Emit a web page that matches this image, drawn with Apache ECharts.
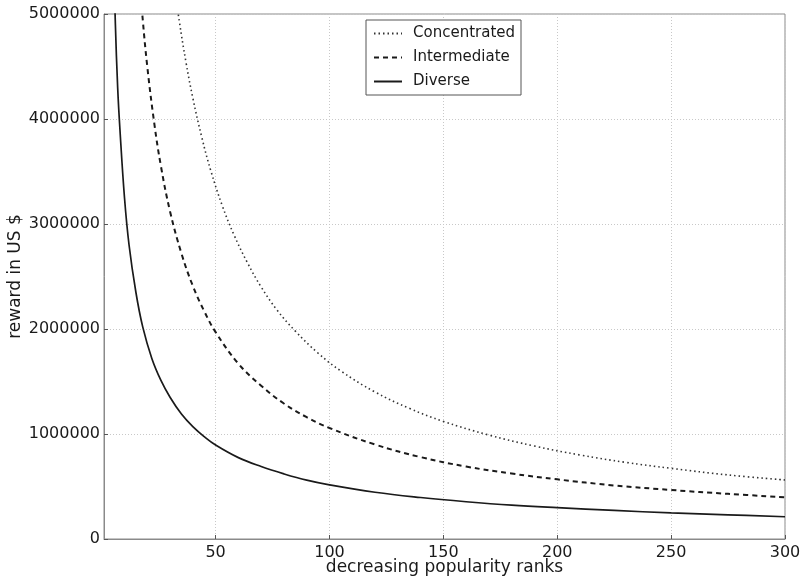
<!DOCTYPE html>
<html>
<head>
<meta charset="utf-8">
<script src="https://cdn.jsdelivr.net/npm/echarts@6/dist/echarts.min.js"></script>
<style>
  html, body { margin: 0; padding: 0; background: #fff; }
  #chart { width: 800px; height: 579px; }
</style>
</head>
<body>
<div id="chart"></div>
<script>
// Reward paid per popularity rank, for three distributions of demand.
const seriesNames = ['Concentrated', 'Intermediate', 'Diverse'];

const concentratedRanks = [32, 34, 37, 40, 44, 48, 53, 58, 64, 70, 77, 85, 95, 105, 120, 135, 150, 170, 190, 210, 230, 250, 275, 300];
const concentratedValues = [5250000, 4940000, 4540000, 4200000, 3820000, 3500000, 3170000, 2900000, 2630000, 2400000, 2180000, 1980000, 1770000, 1600000, 1400000, 1245000, 1120000, 990000, 885000, 800000, 730000, 673000, 610000, 562000];

const intermediateRanks = [16, 18, 20, 23, 26, 30, 35, 40, 45, 50, 60, 70, 80, 90, 100, 120, 140, 160, 180, 200, 225, 250, 275, 300];
const intermediateValues = [5500000, 4950000, 4500000, 3970000, 3550000, 3120000, 2720000, 2410000, 2170000, 1970000, 1670000, 1460000, 1290000, 1160000, 1057000, 900000, 780000, 690000, 623000, 568000, 510000, 467000, 430000, 397000];

const diverseRanks = [5, 6, 7, 8, 10, 12, 15, 18, 22, 26, 30, 35, 40, 45, 50, 60, 70, 80, 90, 100, 120, 140, 160, 180, 200, 225, 250, 275, 300];
const diverseValues = [5700000, 4900000, 4300000, 3900000, 3250000, 2800000, 2350000, 2020000, 1720000, 1510000, 1350000, 1190000, 1070000, 975000, 895000, 775000, 690000, 620000, 560000, 515000, 445000, 395000, 355000, 322000, 298000, 272000, 248000, 230000, 212000];

const xMin = 1, xMax = 300;
const yMin = 0, yMax = 5000000, yStep = 1000000;

const FONT = 'DejaVu Sans';
const INK = '#1a1a1a';

function pairs(xs, ys) { return xs.map((x, i) => [x, ys[i]]); }

const chart = echarts.init(document.getElementById('chart'), null, { renderer: 'canvas' });

chart.setOption({
  animation: false,
  backgroundColor: '#ffffff',
  grid: {
    left: 104, right: 15, top: 14, bottom: 40,
    outerBoundsMode: 'none',
    containLabel: false,
    show: true, borderColor: '#8a8a8a', borderWidth: 1, backgroundColor: 'transparent'
  },
  legend: {
    orient: 'vertical',
    left: 366, top: 20,
    padding: [6, 6, 6, 7],
    itemGap: 9,
    itemWidth: 28, itemHeight: 14,
    borderColor: '#555', borderWidth: 1,
    backgroundColor: '#fff',
    itemStyle: { opacity: 0 },
    textStyle: { fontFamily: FONT, fontSize: 15, color: INK, padding: [0, 0, 0, 6] },
    data: seriesNames
  },
  xAxis: {
    type: 'value',
    min: xMin, max: xMax, splitNumber: 6,
    name: 'decreasing popularity ranks',
    nameLocation: 'middle', nameGap: 20, nameMoveOverlap: false,
    nameTextStyle: { fontFamily: FONT, fontSize: 17, color: INK },
    axisLine: { show: true, lineStyle: { color: '#8a8a8a', width: 1 } },
    axisTick: { show: true, inside: true, length: 4, lineStyle: { color: '#555' } },
    axisLabel: { showMinLabel: false, fontFamily: FONT, fontSize: 16, color: INK, margin: 6 },
    splitLine: { show: true, lineStyle: { color: '#c8c8c8', type: [1, 2], width: 1 } }
  },
  yAxis: {
    type: 'value',
    min: yMin, max: yMax, interval: yStep,
    name: 'reward in US $',
    nameLocation: 'middle', nameGap: 80, nameRotate: 90, nameMoveOverlap: false,
    nameTextStyle: { fontFamily: FONT, fontSize: 17, color: INK },
    axisLine: { show: true, lineStyle: { color: '#8a8a8a', width: 1 } },
    axisTick: { show: true, inside: true, length: 4, lineStyle: { color: '#555' } },
    axisLabel: { fontFamily: FONT, fontSize: 16, color: INK, margin: 4, formatter: v => String(v) },
    splitLine: { show: true, lineStyle: { color: '#c8c8c8', type: [1, 2], width: 1 } }
  },
  series: [
    {
      name: seriesNames[0], type: 'line', smooth: 0.4, symbol: 'none', clip: true,
      data: pairs(concentratedRanks, concentratedValues),
      itemStyle: { color: '#333' },
      lineStyle: { color: '#333', width: 1.6, type: [1.5, 3] }
    },
    {
      name: seriesNames[1], type: 'line', smooth: 0.4, symbol: 'none', clip: true,
      data: pairs(intermediateRanks, intermediateValues),
      itemStyle: { color: INK },
      lineStyle: { color: INK, width: 2, type: [5, 4] }
    },
    {
      name: seriesNames[2], type: 'line', smooth: 0.4, symbol: 'none', clip: true,
      data: pairs(diverseRanks, diverseValues),
      itemStyle: { color: INK },
      lineStyle: { color: INK, width: 1.7, type: 'solid' }
    }
  ]
});
</script>
</body>
</html>
